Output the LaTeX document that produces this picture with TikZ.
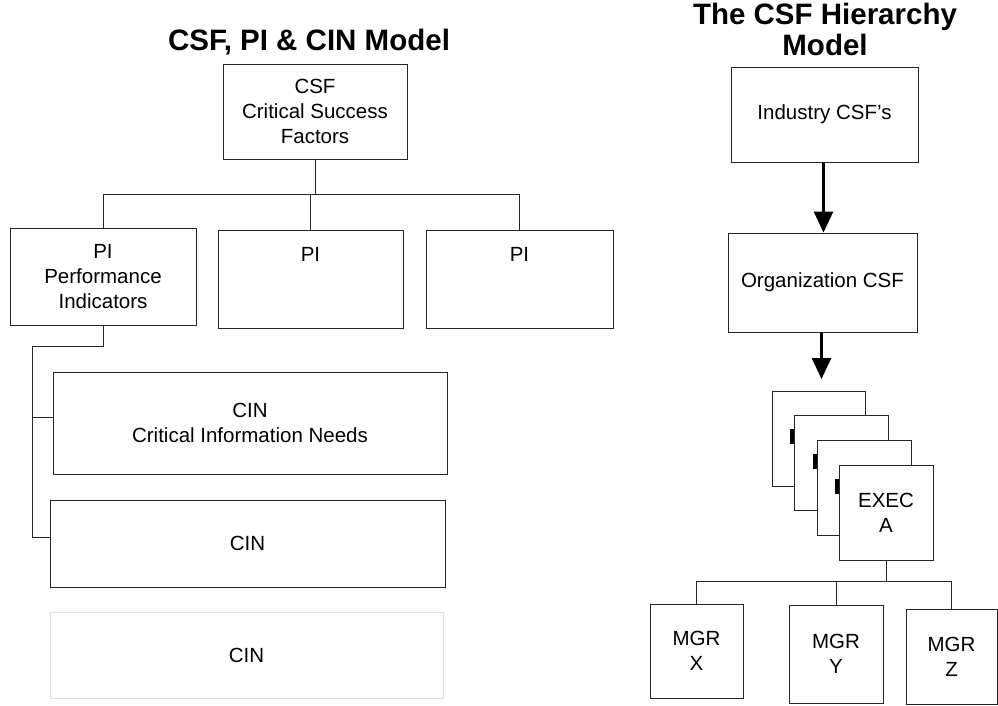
\documentclass[tikz,border=0pt]{standalone}
\usepackage{fontspec}
\setmainfont{Liberation Sans}
\usetikzlibrary{arrows.meta}
\begin{document}
\begin{tikzpicture}[x=1pt,y=-1pt,
  box/.style={draw=black!85,line width=0.9pt,fill=white,inner sep=0pt,align=center,
    font=\fontsize{20.5}{25}\selectfont},
  faint/.style={box,draw=black!12},
  title/.style={font=\fontsize{29.5}{31}\selectfont\bfseries,align=center,inner sep=0pt},
  wire/.style={draw=black!85,line width=0.9pt},
  flow/.style={line width=2.6pt,-{Triangle[width=19pt,length=21pt]}},
  bar/.style={fill=black}]
\useasboundingbox (0,0) rectangle (998,706);

% ---- left: CSF, PI & CIN model ----
\node[title] (ltitle) at (309,42) {CSF, PI \& CIN Model};

\node[box,minimum width=184pt,minimum height=95pt] (csf) at (315,111.5)
  {CSF\\Critical Success\\Factors};

\node[box,minimum width=186pt,minimum height=97pt] (pi1) at (103,276.5)
  {PI\\Performance\\Indicators};
\node[box,minimum width=185pt,minimum height=98pt] (pi2) at (310.5,279)
  {PI\\\mbox{}\\\mbox{}};
\node[box,minimum width=187pt,minimum height=98pt] (pi3) at (519.5,279)
  {PI\\\mbox{}\\\mbox{}};

\node[box,minimum width=394pt,minimum height=102pt] (cin1) at (250,423)
  {CIN\\Critical Information Needs};
\node[box,minimum width=395pt,minimum height=87pt] (cin2) at (247.5,543.5) {CIN};
\node[faint,minimum width=393pt,minimum height=86pt] (cin3) at (246.5,655) {CIN};

\coordinate (hbus) at (0,194);
\draw[wire] (csf.south) -- (csf.south |- hbus);
\draw[wire] (pi1.north) -- (pi1.north |- hbus) -- (pi3.north |- hbus) -- (pi3.north);
\draw[wire] (pi2.north) -- (pi2.north |- hbus);

\coordinate (spine) at (32,346);
\coordinate (cin1in) at ([yshift=6pt]cin1.west);
\coordinate (cin2in) at ([yshift=6.5pt]cin2.west);
\draw[wire] (pi1.south) |- (spine) -- (spine |- cin2in) -- (cin2in);
\draw[wire] (spine |- cin1in) -- (cin1in);

% ---- right: the CSF hierarchy model ----
\node[title] (rtitle) at (825,29) {The CSF Hierarchy\\Model};

\node[box,minimum width=187pt,minimum height=95pt] (ind) at (824.5,114.5) {Industry CSF's};
\node[box,minimum width=189pt,minimum height=99pt] (org) at (822.5,282.5) {Organization CSF};
\coordinate (stack) at (821.5,379);
\draw[flow] ([xshift=-1pt]ind.south) -- ([xshift=-1pt]ind.south |- org.north);
\draw[flow] (stack |- org.south) -- (stack);

% stacked executive boxes, back to front
\node[box,minimum width=93pt,minimum height=95pt] (ex4) at (818.5,438.5) {};
\node[box,minimum width=94pt,minimum height=95pt] (ex3) at (841,462.5) {};
\node[box,minimum width=94pt,minimum height=95pt] (ex2) at (864,487.5) {};
\node[box,minimum width=94pt,minimum height=95pt] (exec) at (886,512.5) {EXEC\\A};
\fill[bar] ([xshift=-3.5pt,yshift=19pt]ex3.west) rectangle ([yshift=33.5pt]ex3.west);
\fill[bar] ([xshift=-3.5pt,yshift=19pt]ex2.west) rectangle ([yshift=33.5pt]ex2.west);
\fill[bar] ([xshift=-3.5pt,yshift=19pt]exec.west) rectangle ([yshift=33.5pt]exec.west);

\node[box,minimum width=93pt,minimum height=94pt] (mgrx) at (696.5,651) {MGR\\X};
\node[box,minimum width=94pt,minimum height=98pt] (mgry) at (836,654) {MGR\\Y};
\node[box,minimum width=91pt,minimum height=95pt] (mgrz) at (951.5,656.5) {MGR\\Z};

\coordinate (mbus) at (886,581);
\draw[wire] (exec.south) -- (mbus);
\draw[wire] (mgrx.north) -- (mgrx.north |- mbus) -- (mgrz.north |- mbus) -- (mgrz.north);
\draw[wire] (mgry.north) -- (mgry.north |- mbus);
\end{tikzpicture}
\end{document}
